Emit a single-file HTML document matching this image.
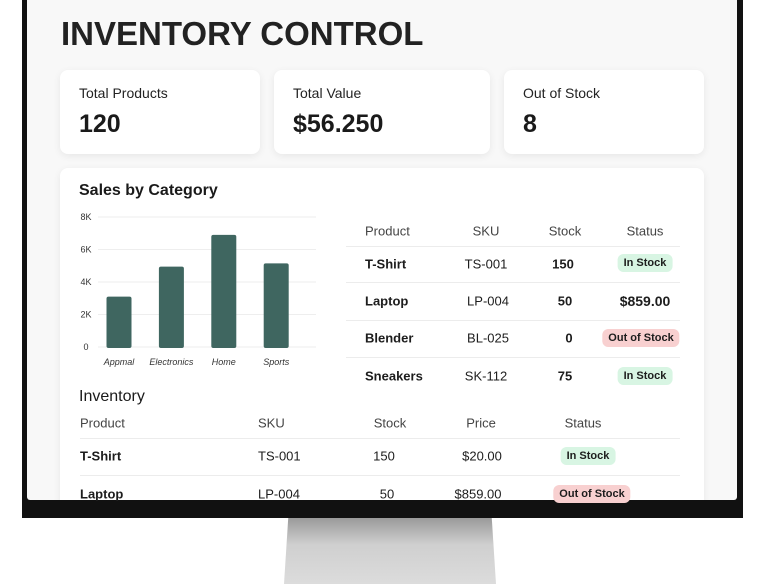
<!DOCTYPE html>
<html><head><meta charset="utf-8"><style>
*{margin:0;padding:0;box-sizing:border-box}
body{width:768px;height:584px;overflow:hidden;background:#fff;font-family:"Liberation Sans",sans-serif;color:#1d1d1d;position:relative}
.abs{position:absolute}
.card{position:absolute;background:#fff;border-radius:8px;box-shadow:0 2px 8px rgba(0,0,0,0.07)}
.lbl{position:absolute;font-size:14px;color:#222;white-space:nowrap}
.big{position:absolute;font-size:25px;font-weight:bold;color:#1a1a1a;white-space:nowrap}
.t{position:absolute;font-size:13px;white-space:nowrap;transform:translate(-50%,-50%)}
.tl{position:absolute;font-size:13px;white-space:nowrap;transform:translateY(-50%)}
.b{font-weight:bold}
.hd{color:#444}
.pill{position:absolute;transform:translate(-50%,-50%);font-size:11px;font-weight:bold;padding:3px 6px;border-radius:6px;white-space:nowrap}
.green{background:#d8f5e3}
.red{background:#f8d0d0}
.div{position:absolute;height:1px;background:#ececec}
</style></head><body>
<div class="abs" style="left:22px;top:0;width:721px;height:518px;background:#111"></div>
<div class="abs" style="left:27px;top:0;width:710px;height:500px;background:#f8f8f8;border-radius:0 0 3px 3px;overflow:hidden">
</div>
<div class="abs" style="left:284px;top:518px;width:212px;height:66px;background:linear-gradient(#9a9a9a,#cfcfcf 40%,#dcdcdc);clip-path:polygon(2% 0,98% 0,100% 100%,0 100%)"></div>

<div class="abs b" style="left:61px;top:15px;font-size:33px;color:#222">INVENTORY CONTROL</div>

<div class="card" style="left:60px;top:70px;width:200px;height:84px">
<div class="lbl" style="left:19px;top:15px">Total Products</div><div class="big" style="left:19px;top:40px">120</div></div>
<div class="card" style="left:274px;top:70px;width:216px;height:84px">
<div class="lbl" style="left:19px;top:15px">Total Value</div><div class="big" style="left:19px;top:40px">$56.250</div></div>
<div class="card" style="left:504px;top:70px;width:200px;height:84px">
<div class="lbl" style="left:19px;top:15px">Out of Stock</div><div class="big" style="left:19px;top:40px">8</div></div>

<div class="card" style="left:60px;top:168px;width:644px;height:340px;border-radius:8px 8px 0 0"></div>
<div class="abs" style="left:22px;top:500px;width:721px;height:18px;background:#111"></div>

<div class="abs b" style="left:79px;top:182px;font-size:16px;color:#1a1a1a">Sales by Category</div>
<svg class="abs" style="left:0;top:0" width="768" height="500" id="chart"></svg>

<div>
<div class="tl hd" style="left:365px;top:231px">Product</div>
<div class="t hd" style="left:486px;top:231px">SKU</div>
<div class="t hd" style="left:565px;top:231px">Stock</div>
<div class="t hd" style="left:645px;top:231px">Status</div>
<div class="div" style="left:346px;top:246px;width:334px"></div>
<div class="tl b" style="left:365px;top:264px">T-Shirt</div><div class="t" style="left:486px;top:264px">TS-001</div><div class="t b" style="left:563px;top:264px">150</div><div class="pill green" style="left:645px;top:263px">In Stock</div>
<div class="div" style="left:346px;top:282px;width:334px"></div>
<div class="tl b" style="left:365px;top:301px">Laptop</div><div class="t" style="left:488px;top:301px">LP-004</div><div class="t b" style="left:565px;top:301px">50</div><div class="t b" style="left:645px;top:301px;font-size:14px">$859.00</div>
<div class="div" style="left:346px;top:320px;width:334px"></div>
<div class="tl b" style="left:365px;top:338px">Blender</div><div class="t" style="left:488px;top:338px">BL-025</div><div class="t b" style="left:569px;top:338px">0</div><div class="pill red" style="left:641px;top:338px">Out of Stock</div>
<div class="div" style="left:346px;top:357px;width:334px"></div>
<div class="tl b" style="left:365px;top:376px">Sneakers</div><div class="t" style="left:486px;top:376px">SK-112</div><div class="t b" style="left:565px;top:376px">75</div><div class="pill green" style="left:645px;top:376px">In Stock</div>
</div>

<div class="abs" style="left:79px;top:388px;font-size:16px;color:#1a1a1a">Inventory</div>
<div>
<div class="tl hd" style="left:80px;top:423px">Product</div>
<div class="tl hd" style="left:258px;top:423px">SKU</div>
<div class="t hd" style="left:390px;top:423px">Stock</div>
<div class="t hd" style="left:481px;top:423px">Price</div>
<div class="t hd" style="left:583px;top:423px">Status</div>
<div class="div" style="left:80px;top:438px;width:600px"></div>
<div class="tl b" style="left:80px;top:456px">T-Shirt</div><div class="tl" style="left:258px;top:456px">TS-001</div><div class="t" style="left:384px;top:456px">150</div><div class="t" style="left:482px;top:456px">$20.00</div><div class="pill green" style="left:588px;top:456px">In Stock</div>
<div class="div" style="left:80px;top:475px;width:600px"></div>
<div class="tl b" style="left:80px;top:494px">Laptop</div><div class="tl" style="left:258px;top:494px">LP-004</div><div class="t" style="left:387px;top:494px">50</div><div class="t" style="left:478px;top:494px">$859.00</div><div class="pill red" style="left:592px;top:494px">Out of Stock</div>
</div>

<script>
const categories=["Appmal","Electronics","Home","Sports"];
const sales=[3.1,4.95,6.9,5.15];
const ticks=[0,2,4,6,8];
const tickLabels=["0","2K","4K","6K","8K"];
const NS="http://www.w3.org/2000/svg";
const svg=document.getElementById('chart');
const x0=98,x1=316,yBase=347,yTop=217,maxV=8;
const yS=v=>yBase-(v/maxV)*(yBase-yTop);
const xC=i=>119+52.4*i;
function mk(t,a){const e=document.createElementNS(NS,t);for(const k in a)e.setAttribute(k,a[k]);svg.appendChild(e);return e;}
ticks.forEach((v,i)=>{
  const g=mk('line',{x1:x0,x2:x1,y1:yS(v),y2:yS(v),stroke:'#eeeeee','stroke-width':1});
  
  
  const t=mk('text',{x:86,y:yS(v)+3,'text-anchor':'middle','font-size':9,fill:'#333','font-family':'Liberation Sans'});
  t.textContent=tickLabels[i];
  
  
});
sales.forEach((v,i)=>{
  const w=25,cx=xC(i);
  const r=mk('rect',{x:cx-w/2,y:yS(v),width:w,height:yBase-yS(v)+1,rx:2,fill:'#3f6660'});
  
  
  const t=mk('text',{x:cx,y:365,'text-anchor':'middle','font-size':9,'font-style':'italic',fill:'#333','font-family':'Liberation Sans'});
  t.textContent=categories[i];
  
  
});
</script>
</body></html>
